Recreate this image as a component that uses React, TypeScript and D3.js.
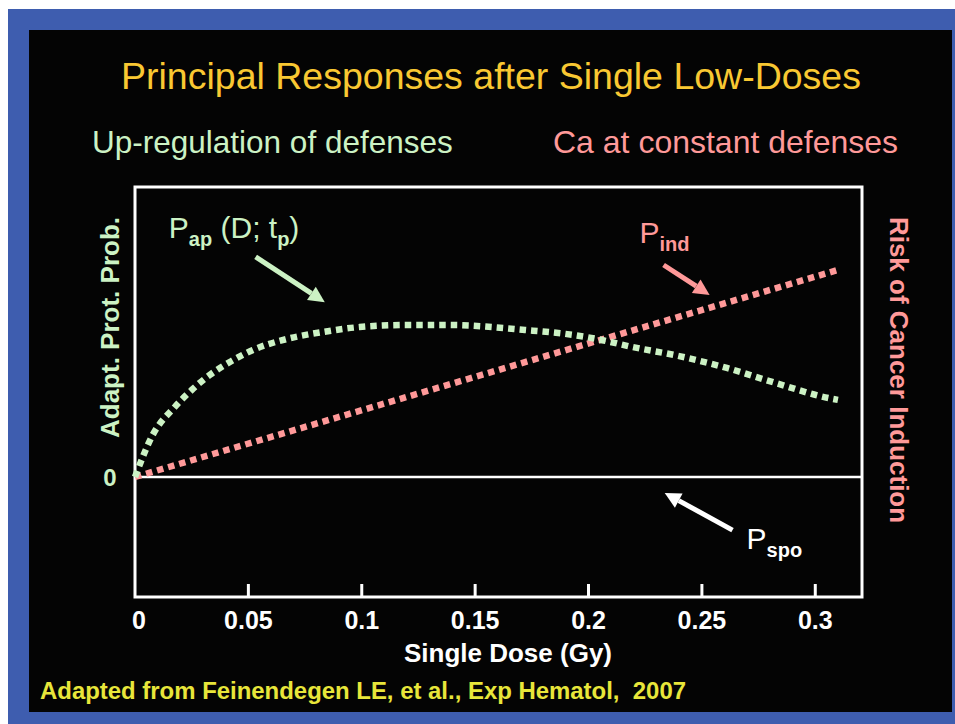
import React, { useRef, useEffect } from "react";
import * as d3 from "d3";

// x ticks (Gy)
const doseTicks = [0, 0.05, 0.1, 0.15, 0.2, 0.25, 0.3];

// adaptive protection probability
const papDose = [0, 0.0078, 0.0175, 0.025, 0.033, 0.0426, 0.052, 0.067, 0.0828, 0.099, 0.12, 0.139, 0.172, 0.193, 0.2036, 0.2195, 0.24, 0.261, 0.281, 0.306, 0.31];
const papValue = [0, 0.145, 0.241, 0.3, 0.352, 0.4, 0.438, 0.476, 0.5, 0.517, 0.524, 0.524, 0.507, 0.49, 0.476, 0.448, 0.417, 0.376, 0.328, 0.272, 0.266];

// induced cancer risk, linear
const indDose = [0, 0.31];
const indValue = [0, 0.714];

const FONT = "'Liberation Sans', Arial, sans-serif";
const GREEN = "#ccf2c4";
const PINK = "#ff9999";

function App() {
  const ref = useRef<SVGSVGElement>(null);

  useEffect(() => {
    const width = 955;
    const height = 724;
    const svg = d3.select(ref.current).attr("viewBox", [0, 0, width, height]);
    svg.selectAll("*").remove();

    // slide background
    svg.append("rect").attr("width", width).attr("height", height).attr("fill", "#fff");
    svg.append("rect").attr("x", 8).attr("y", 9).attr("width", width - 8).attr("height", height - 9).attr("fill", "#3e5daf");
    svg.append("rect").attr("x", 29).attr("y", 30).attr("width", 923).attr("height", 682).attr("fill", "#040404");

    const x = d3.scaleLinear().domain([0, 0.3206]).range([135, 862]);
    const y = d3.scaleLinear().domain([-120 / 290, 1]).range([597, 187]);

    const txt = (tx, ty, s, size, fill, weight = "normal", anchor = "start") =>
      svg.append("text")
        .attr("x", tx).attr("y", ty)
        .attr("font-family", FONT).attr("font-size", size)
        .attr("font-weight", weight).attr("fill", fill)
        .attr("text-anchor", anchor).text(s);

    // titles
    txt(491, 89, "Principal Responses after Single Low-Doses", 37.5, "#f9c832", "normal", "middle");
    txt(92, 153, "Up-regulation of defenses", 31.5, GREEN);
    txt(553, 153, "Ca at constant defenses", 32, PINK);

    // frame
    svg.append("rect")
      .attr("x", x(0)).attr("y", y(1))
      .attr("width", x.range()[1] - x(0)).attr("height", y(y.domain()[0]) - y(1))
      .attr("fill", "none").attr("stroke", "#fff").attr("stroke-width", 3);
    svg.append("line")
      .attr("x1", x(0)).attr("x2", x.range()[1])
      .attr("y1", y(0)).attr("y2", y(0))
      .attr("stroke", "#fff").attr("stroke-width", 2.5);

    // x ticks
    const ticks = svg.append("g");
    ticks.selectAll("line")
      .data(doseTicks.filter((d) => d > 0))
      .join("line")
      .attr("x1", (d) => x(d)).attr("x2", (d) => x(d))
      .attr("y1", y.range()[0]).attr("y2", y.range()[0] - 13)
      .attr("stroke", "#fff").attr("stroke-width", 3);
    ticks.selectAll("text")
      .data(doseTicks)
      .join("text")
      .attr("x", (d) => x(d) + (d === 0 ? 4 : 0))
      .attr("y", 629)
      .attr("text-anchor", "middle")
      .attr("font-family", FONT).attr("font-size", 25).attr("font-weight", "bold")
      .attr("fill", "#fff")
      .text((d) => (d === 0 ? "0" : String(d)));

    txt(508, 662, "Single Dose (Gy)", 26, "#fff", "bold", "middle");
    txt(110, y(0) + 9, "0", 24, GREEN, "bold", "middle");

    // side labels
    svg.append("text")
      .attr("transform", `translate(119,${(215 + 440) / 2}) rotate(-90)`)
      .attr("text-anchor", "middle")
      .attr("font-family", FONT).attr("font-size", 26).attr("font-weight", "bold")
      .attr("fill", GREEN).text("Adapt. Prot. Prob.");
    svg.append("text")
      .attr("transform", `translate(890,370) rotate(90)`)
      .attr("text-anchor", "middle")
      .attr("font-family", FONT).attr("font-size", 26).attr("font-weight", "bold")
      .attr("fill", PINK).text("Risk of Cancer Induction");

    // curves
    const line = d3.line().x((d) => x(d[0])).y((d) => y(d[1]));
    svg.append("path")
      .datum(indDose.map((d, i) => [d, indValue[i]]))
      .attr("d", line)
      .attr("fill", "none").attr("stroke", PINK)
      .attr("stroke-width", 6.5).attr("stroke-dasharray", "6.5,5");
    svg.append("path")
      .datum(papDose.map((d, i) => [d, papValue[i]]))
      .attr("d", line.curve(d3.curveMonotoneX))
      .attr("fill", "none").attr("stroke", GREEN)
      .attr("stroke-width", 6.5).attr("stroke-dasharray", "6.5,5");

    // annotations
    const arrow = (d0, v0, d1, v1, color) => {
      const x0 = x(d0), y0 = y(v0), x1 = x(d1), y1 = y(v1);
      const a = Math.atan2(y1 - y0, x1 - x0);
      const hl = 16, hw = 8;
      const bx = x1 - hl * Math.cos(a), by = y1 - hl * Math.sin(a);
      svg.append("line")
        .attr("x1", x0).attr("y1", y0).attr("x2", bx).attr("y2", by)
        .attr("stroke", color).attr("stroke-width", 5);
      svg.append("path")
        .attr("d", `M${x1},${y1}L${bx - hw * Math.sin(a)},${by + hw * Math.cos(a)}L${bx + hw * Math.sin(a)},${by - hw * Math.cos(a)}Z`)
        .attr("fill", color);
    };

    const label = (d, v, color, parts) => {
      const t = svg.append("text")
        .attr("x", x(d)).attr("y", y(v))
        .attr("font-family", FONT).attr("fill", color);
      let down = false;
      parts.forEach(([s, sub]) => {
        t.append("tspan")
          .attr("font-size", sub ? 20 : 30)
          .attr("font-weight", sub ? "bold" : "normal")
          .attr("dy", sub && !down ? 8 : !sub && down ? -8 : 0)
          .text(s);
        down = sub;
      });
    };

    label(0.0149, 0.824, GREEN, [["P", false], ["ap", true], [" (D; t", false], ["p", true], [")", false]]);
    arrow(0.0532, 0.759, 0.0837, 0.603, GREEN);

    label(0.2225, 0.807, PINK, [["P", false], ["ind", true]]);
    arrow(0.2331, 0.731, 0.2534, 0.628, PINK);

    label(0.2697, -0.248, "#fff", [["P", false], ["spo", true]]);
    arrow(0.2635, -0.183, 0.2336, -0.055, "#fff");

    txt(40, 699, "Adapted from Feinendegen LE, et al., Exp Hematol,  2007", 23, "#e8e63a", "bold")
      .attr("textLength", 646).attr("lengthAdjust", "spacingAndGlyphs")
      .style("white-space", "pre");
  }, []);

  return (
    <svg
      ref={ref}
      width={955}
      height={724}
      style={{ position: "absolute", left: 0, top: 0, display: "block" }}
    />
  );
}

export default App;
